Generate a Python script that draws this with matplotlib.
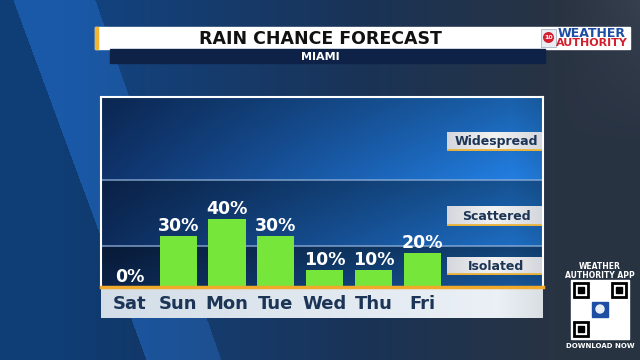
import numpy as np
import matplotlib.pyplot as plt
from matplotlib.patches import Rectangle, Circle

# data
days = ['Sat', 'Sun', 'Mon', 'Tue', 'Wed', 'Thu', 'Fri']
rain_chance = [0, 30, 40, 30, 10, 10, 20]
tiers = ['Isolated', 'Scattered', 'Widespread']
tier_lines = [24, 63]
title = 'RAIN CHANCE FORECAST'
subtitle = 'MIAMI'

W, H = 640, 360
plt.rcParams['font.family'] = ['DejaVu Sans']
fig = plt.figure(figsize=(6.4, 3.6), dpi=100)

# full-figure axes in pixel coords for the decoration
bg = fig.add_axes([0, 0, 1, 1])
yy, xx = np.mgrid[0:H, 0:W].astype(float)
c_blue = np.array([0.07, 0.27, 0.52])
c_mid = np.array([0.10, 0.20, 0.34])
c_dark = np.array([0.16, 0.20, 0.26])
w1 = np.clip((xx - 60) / 300, 0, 1)[..., None]
w2 = np.clip((xx - 360) / 200, 0, 1)[..., None]
img = c_blue * (1 - w1) + c_mid * w1
img = img * (1 - w2) + c_dark * w2
line1 = xx > 13 + yy * 0.37
line2 = xx < 95 + yy * 0.35
swath = (line1 & line2).astype(float)[..., None]
img = img + swath * np.array([0.03, 0.08, 0.14])
img = img - (~line1).astype(float)[..., None] * np.array([0.01, 0.03, 0.06])
img = img + np.clip((yy[..., None] - 200) / 160, 0, 1) * 0 + np.clip((xx[..., None] - 560) / 80, 0, 1) * np.clip((140 - yy[..., None]) / 140, 0, 1) * 0.05
bg.imshow(np.clip(img, 0, 1), extent=(0, W, H, 0), aspect='auto', zorder=0)
bg.set_xlim(0, W)
bg.set_ylim(H, 0)
bg.axis('off')

# title bar
bg.add_patch(Rectangle((95, 27), 535, 22, color='white', zorder=2))
bg.add_patch(Rectangle((95, 27), 3, 22, color='#f2b632', zorder=3))
bg.add_patch(Rectangle((110, 49), 435, 14, color='#0e2248', zorder=2))
bg.text(320, 38.5, title, ha='center', va='center', fontsize=12.5,
        fontweight='bold', color='#111111', zorder=4)
bg.text(320, 56.5, subtitle, ha='center', va='center', fontsize=8,
        fontweight='bold', color='white', zorder=4)

# logo
bg.add_patch(Rectangle((541, 29), 15, 18, color='#e9eef5', ec='#9aa8bb', lw=0.5, zorder=4))
bg.add_patch(Circle((548.5, 37.5), 4.8, color='#d3202f', zorder=5))
bg.text(548.5, 37.8, '10', ha='center', va='center', fontsize=4.5,
        fontweight='bold', color='white', zorder=6)
bg.text(592, 33.5, 'WEATHER', ha='center', va='center', fontsize=9,
        fontweight='bold', color='#1d4ea3', zorder=4)
bg.text(592, 43.5, 'AUTHORITY', ha='center', va='center', fontsize=8,
        fontweight='bold', color='#d3202f', zorder=4)

# chart panel
ax = fig.add_axes([101 / W, 1 - 287 / H, 442 / W, 190 / H])
x = np.arange(len(days))
ymax = 112
edges = [0] + tier_lines + [ymax]
py = np.linspace(ymax, 0, 400)
px = np.linspace(0, 1, 400)
left_c = np.array([0.06, 0.20, 0.42])
right_c = np.array([0.14, 0.52, 0.92])
band_mul = [0.68, 0.86, 1.0]
edge_dim = 1 - 0.12 * np.clip((px - 0.93) / 0.07, 0, 1)
panel = np.zeros((len(py), len(px), 3))
for i, yv in enumerate(py):
    b = min(np.searchsorted(edges, yv, side='right') - 1, 2)
    f = (yv - edges[b]) / (edges[b + 1] - edges[b])
    m = band_mul[b] * (1.0 - 0.25 * f)
    row = left_c[None, :] * (1 - px[:, None]) + right_c[None, :] * px[:, None]
    panel[i] = row * m * edge_dim[:, None]
ax.imshow(np.clip(panel, 0, 1), extent=(-0.58, 8.47, 0, ymax), aspect='auto', zorder=0)

for t in tier_lines:
    ax.axhline(t, color='#8eaed6', lw=1.2, alpha=0.8, zorder=1)

ax.bar(x, rain_chance, width=0.76, color='#76e63a', zorder=3)
for xi, v in zip(x, rain_chance):
    ax.text(xi, v + 3, f'{v}%', ha='center', va='baseline', fontsize=12.5,
            fontweight='bold', color='white', zorder=4)

ax.set_xlim(-0.58, 8.47)
ax.set_ylim(0, ymax)
ax.set_yticks([])
ax.set_xticks(x)
ax.set_xticklabels(days, fontsize=13, fontweight='bold', color='#1c3556')
ax.tick_params(axis='x', length=0, pad=5.5)
for s in ['top', 'left', 'right']:
    ax.spines[s].set_color('white')
    ax.spines[s].set_linewidth(1.5)
ax.spines['bottom'].set_color('#f0a92a')
ax.spines['bottom'].set_linewidth(2.5)
ax.spines['bottom'].set_zorder(5)

# day label strip
strip = np.linspace(0, 1, 200)
sc = np.array([0.83, 0.87, 0.91])[None, :] * (1 - strip[:, None]) + np.array([0.93, 0.95, 0.97])[None, :] * strip[:, None]
sc = sc * (1 - 0.08 * np.clip((strip - 0.9) / 0.1, 0, 1))[:, None]
bg.imshow(sc[None, :, :], extent=(101, 543, 318, 288.5), aspect='auto', zorder=1)

# tier label boxes
tier_boxes = [(257, 275), (206, 226), (132, 151)]
bxg = np.linspace(-1, 1, 100)
bcol = 0.95 - 0.12 * np.abs(bxg)[:, None] * np.array([1.0, 0.9, 0.7])[None, :]
for name, (y0, y1) in zip(tiers, tier_boxes):
    a = fig.add_axes([447 / W, 1 - y1 / H, 95 / W, (y1 - y0) / H])
    a.imshow(bcol[None, :, :], extent=(0, 1, 0, 1), aspect='auto')
    a.axhline(0.04, color='#e8b23a', lw=2)
    a.text(0.52, 0.5, name, ha='center', va='center', fontsize=9,
           fontweight='bold', color='#1c3556', transform=a.transAxes)
    a.set_xlim(0, 1)
    a.set_ylim(0, 1)
    a.axis('off')

# app QR block
bg.text(600, 271, 'WEATHER\nAUTHORITY APP', ha='center', va='center', fontsize=5.5,
        fontweight='bold', color='white', linespacing=0.95, zorder=2)
bg.add_patch(Rectangle((571, 280), 58, 59, color='white', zorder=2))
for qx, qy in [(574, 283), (612, 283), (574, 322)]:
    bg.add_patch(Rectangle((qx, qy), 14, 14, fc='none', ec='black', lw=2, zorder=3))
    bg.add_patch(Rectangle((qx + 4, qy + 4), 6, 6, color='black', zorder=3))
bg.add_patch(Rectangle((592, 302), 16, 15, color='#1d4ea3', zorder=3))
bg.add_patch(Circle((600, 309), 4, color='#e9eef5', zorder=4))
bg.text(600, 346, 'DOWNLOAD NOW', ha='center', va='center', fontsize=5,
        fontweight='bold', color='white', zorder=2)

fig.savefig('out.png', dpi=100)
